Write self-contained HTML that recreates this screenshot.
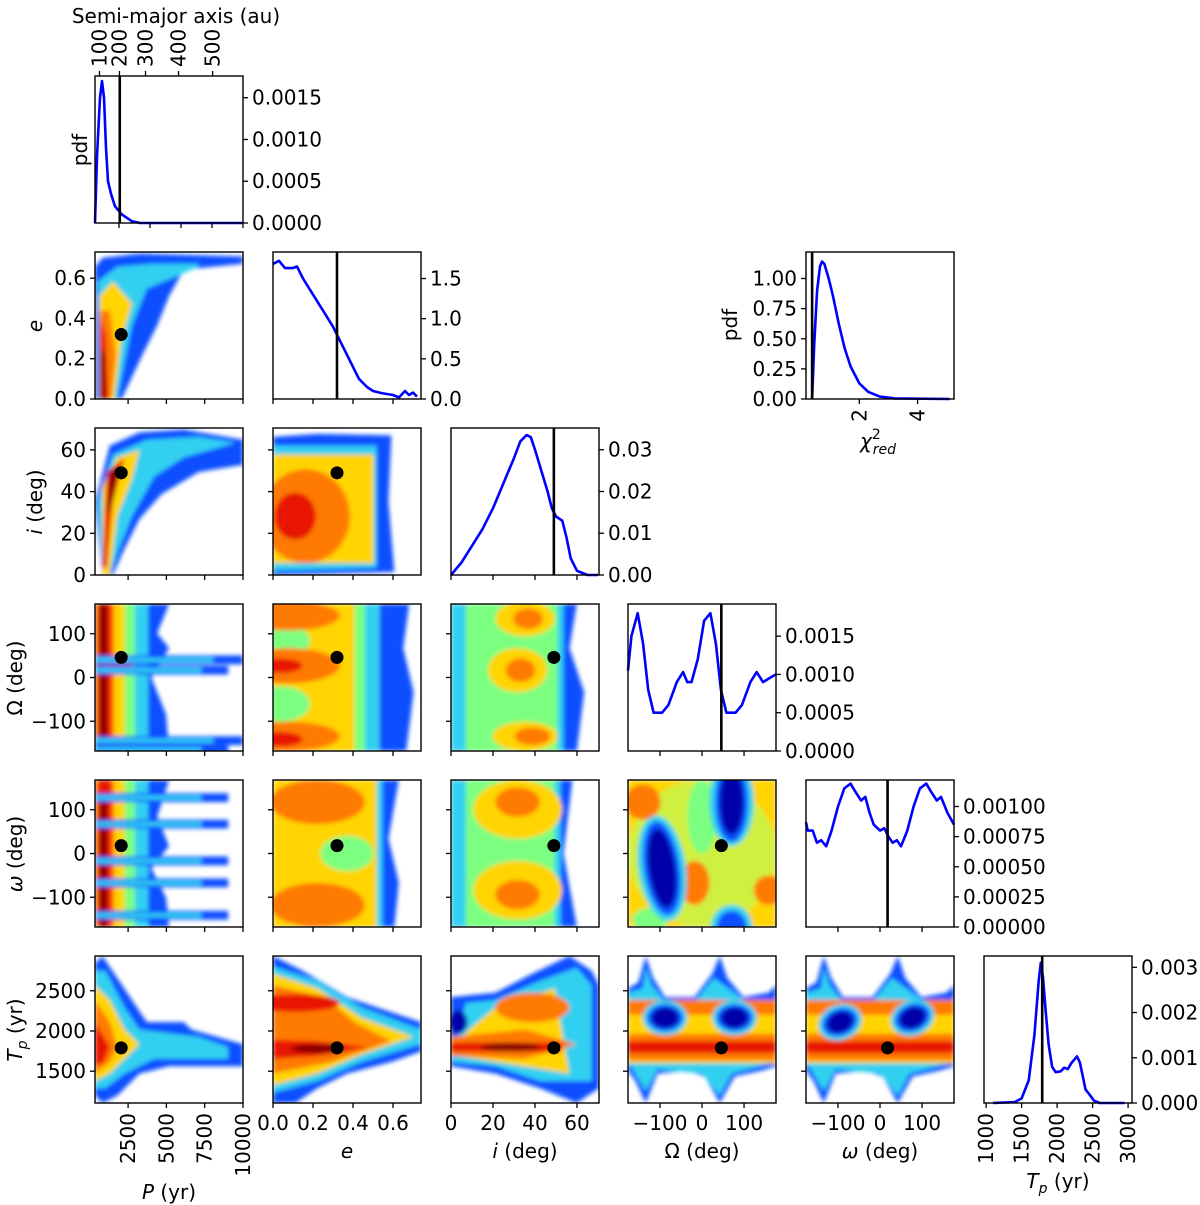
<!DOCTYPE html>
<html><head><meta charset="utf-8"><style>
html,body{margin:0;padding:0;background:#fff;}
svg{display:block;font-family:"DejaVu Sans","Liberation Sans",sans-serif;}
</style></head><body>
<svg id="fig" width="1200" height="1205" viewBox="0 0 1200 1205" xmlns="http://www.w3.org/2000/svg">
<defs><filter id="bl" x="-10%" y="-10%" width="120%" height="120%"><feGaussianBlur stdDeviation="2.2"/></filter></defs>
</svg>
<script>
// ---------- data ----------
const bestFit = {P:2050, e:0.32, i:49, Om:46, om:18, Tp:1790};
const pdfP_x = [452,581,775,904,1033,1162,1291,1484,1742,2194,2839,3355,10000];
const pdfP_y = [0,0.0008,0.0015,0.0017,0.0015,0.0009,0.0005,0.00035,0.0002,0.0001,0.00002,0,0];
const pdfE_x = [0,0.03,0.06,0.1,0.12,0.15,0.2,0.25,0.3,0.33,0.36,0.4,0.43,0.47,0.5,0.55,0.6,0.63,0.66,0.68,0.7,0.72];
const pdfE_y = [1.68,1.72,1.63,1.63,1.65,1.5,1.3,1.1,0.9,0.75,0.6,0.4,0.25,0.15,0.1,0.07,0.05,0.02,0.1,0.05,0.08,0.03];
const pdfI_x = [0,5,10,15,20,25,30,33,36,38,40,43,46,48,50,53,55,57,60,65,70];
const pdfI_y = [0,0.003,0.007,0.011,0.016,0.022,0.028,0.032,0.0335,0.033,0.030,0.025,0.02,0.016,0.014,0.013,0.009,0.004,0.001,0,0];
const pdfOm_x = [-176,-168,-153,-140,-128,-115,-95,-80,-60,-45,-35,-25,-10,5,20,33,45,58,80,95,115,130,145,160,176];
const pdfOm_y = [0.00105,0.0015,0.0018,0.0014,0.0008,0.0005,0.0005,0.0006,0.0009,0.00103,0.0009,0.0009,0.0012,0.0017,0.0018,0.0014,0.0008,0.0005,0.0005,0.0006,0.0009,0.00103,0.0009,0.00095,0.001];
const pdfom_x = [-176,-172,-160,-150,-140,-128,-115,-100,-85,-70,-60,-45,-35,-25,-15,0,10,20,30,40,50,65,80,95,110,120,135,145,160,176];
const pdfom_y = [0.00087,0.0008,0.0008,0.0007,0.00072,0.00067,0.0008,0.001,0.00115,0.00119,0.00113,0.00105,0.00108,0.00095,0.00085,0.0008,0.00082,0.00075,0.0007,0.00072,0.00067,0.0008,0.001,0.00115,0.00119,0.00113,0.00105,0.00108,0.00095,0.00085];
const pdfTp_x = [1100,1400,1500,1600,1680,1740,1770,1800,1840,1880,1930,1980,2050,2100,2150,2200,2280,2320,2360,2400,2450,2520,2600,2950];
const pdfTp_y = [0,0.00002,0.0001,0.0005,0.0015,0.0027,0.0031,0.0028,0.002,0.0013,0.0008,0.00068,0.0007,0.00078,0.00075,0.00088,0.00103,0.0009,0.0006,0.0003,0.0002,0.00005,0,0];
const chi_x = [0.38,0.45,0.55,0.65,0.72,0.8,0.95,1.1,1.3,1.5,1.7,2,2.3,2.7,3.2,5.1];
const chi_y = [0,0.45,0.9,1.1,1.14,1.12,1.0,0.85,0.62,0.42,0.27,0.13,0.06,0.02,0.005,0];
const chiBest = 0.38;
const auTicks = [100,200,300,400,500];
const auTickP = [740,2030,3710,5840,8040];

// ---------- layout ----------
const NS="http://www.w3.org/2000/svg";
const svg=document.getElementById('fig');
const colX=[95,273,451,628,806,984], rowY=[76,252,428,604,780,956], W=148, H=147;
const xDom=[[340,10000],[0,0.74],[0,70.5],[-176,176],[-176,176],[970,3055]];
const yDom=[null,[0,0.73],[0,70.5],[-168,168],[-168,168],[1105,2932]];
const dDom=[[0,0.00176],[0,1.83],[0,0.0352],[0,0.00192],[0,0.00122],[0,0.00325]];
function sx(c,v,dom){const d=dom||xDom[c];return colX[c]+(v-d[0])/(d[1]-d[0])*W;}
function sy(r,v,dom){const d=dom||yDom[r];return rowY[r]+H-(v-d[0])/(d[1]-d[0])*H;}
function el(tag,attrs,parent){const e=document.createElementNS(NS,tag);for(const k in attrs)e.setAttribute(k,attrs[k]);(parent||svg).appendChild(e);return e;}
function txt(s,x,y,attrs,parent){const t=el('text',Object.assign({x:x,y:y,'font-size':20,fill:'#000'},attrs||{}),parent);t.textContent=s;return t;}

const C={DR:'#8b0000',R:'#e81800',O:'#ff7a00',Y:'#ffd400',LY:'#d0f040',G:'#7cff80',C:'#30d0f0',B:'#1050ff',DB:'#0000a8'};

function heat(r,c,name,shapes){
  const x0=colX[c],y0=rowY[r];
  const cp=el('clipPath',{id:'cp'+r+c},svg.querySelector('defs'));
  el('rect',{x:x0,y:y0,width:W,height:H},cp);
  const g=el('g',{'clip-path':'url(#cp'+r+c+')'});
  
  
  const gb=el('g',{filter:'url(#bl)'},g);
  shapes.forEach(s=>{
    if(s[0]==='p'){el('polygon',{points:s[2].map(p=>(x0+p[0]*W)+','+(y0+p[1]*H)).join(' '),fill:C[s[1]]},gb);}
    else if(s[0]==='e'){el('ellipse',{cx:x0+s[2]*W,cy:y0+s[3]*H,rx:s[4]*W,ry:s[5]*H,fill:C[s[1]],transform:'rotate('+(s[6]||0)+' '+(x0+s[2]*W)+' '+(y0+s[3]*H)+')'},gb);}
    else if(s[0]==='r'){el('rect',{x:x0+s[2]*W,y:y0+s[3]*H,width:s[4]*W,height:s[5]*H,fill:C[s[1]]},gb);}
  });
  return g;
}
function streaks(vs,len){const o=[];vs.forEach(v=>{o.push(['r','B',0,v-0.03,len,0.06]);o.push(['r','C',0,v-0.015,len*0.8,0.03]);});return o;}

heat(1,0,'heatmap-p-e',[
 ['p','B',[[0,1],[0,0.1],[0.05,0.04],[0.3,0.01],[1,0.03],[1,0.08],[0.6,0.12],[0.5,0.3],[0.42,0.5],[0.32,0.7],[0.25,0.85],[0.18,1]]],
 ['p','C',[[0.02,1],[0.02,0.2],[0.15,0.1],[0.4,0.08],[0.7,0.08],[0.7,0.1],[0.35,0.25],[0.25,0.5],[0.2,0.75],[0.15,1]]],
 ['p','Y',[[0.03,1],[0.03,0.3],[0.12,0.2],[0.25,0.35],[0.18,0.6],[0.13,1]]],
 ['p','O',[[0.03,1],[0.03,0.4],[0.1,0.4],[0.14,0.7],[0.11,1]]],
 ['p','R',[[0.03,1],[0.03,0.45],[0.07,0.55],[0.09,1]]],
 ['p','DR',[[0.04,1],[0.04,0.65],[0.07,0.7],[0.07,1]]]]);
heat(2,0,'heatmap-p-i',[
 ['p','B',[[0.05,1],[0,0.5],[0.1,0.12],[0.3,0.03],[0.6,0.01],[1,0.08],[1,0.25],[0.7,0.3],[0.45,0.45],[0.3,0.62],[0.2,0.82],[0.12,1]]],
 ['p','C',[[0.05,1],[0.02,0.5],[0.12,0.18],[0.35,0.08],[0.7,0.06],[0.95,0.1],[0.6,0.2],[0.4,0.33],[0.25,0.6],[0.15,0.85],[0.1,1]]],
 ['p','Y',[[0.05,1],[0.05,0.4],[0.15,0.2],[0.3,0.15],[0.25,0.35],[0.15,0.6],[0.1,1]]],
 ['p','R',[[0.05,0.95],[0.08,0.3],[0.2,0.2],[0.12,0.5],[0.08,0.95]]],
 ['p','DR',[[0.08,0.6],[0.1,0.3],[0.17,0.25],[0.12,0.5]]]]);
heat(2,1,'heatmap-e-i',[
 ['p','B',[[0,0.06],[0.3,0.04],[0.8,0.05],[0.78,0.5],[0.82,0.98],[0,1]]],
 ['p','C',[[0,0.12],[0.7,0.12],[0.7,0.95],[0,0.97]]],
 ['r','Y',0,0.18,0.68,0.74],
 ['e','O',0.22,0.6,0.3,0.32],
 ['e','R',0.15,0.6,0.14,0.16]]);
heat(3,0,'heatmap-p-omega',[
 ['p','B',[[0,0],[0.5,0],[0.42,0.2],[0.5,0.3],[0.38,0.5],[0.48,0.75],[0.5,1],[0,1]]],
 ['r','C',0,0,0.36,1],['r','G',0,0,0.27,1],['r','Y',0,0,0.2,1],['r','O',0,0,0.13,1],['r','R',0.02,0,0.09,1],['r','DR',0.03,0,0.05,1],
 ['e','R',0.15,0.4,0.12,0.03],['e','R',0.15,0.93,0.12,0.03]
].concat(streaks([0.38,0.93],1)).concat(streaks([0.45,0.99],0.9)));
heat(3,1,'heatmap-e-omega',[
 ['p','B',[[0,0],[0.92,0],[0.88,0.3],[0.95,0.6],[0.9,1],[0,1]]],
 ['r','C',0,0,0.72,1],['r','G',0,0,0.62,1],['r','Y',0,0,0.55,1],
 ['e','G',0.05,0.25,0.2,0.12],['e','G',0.05,0.68,0.2,0.12],
 ['e','O',0.1,0.08,0.35,0.1],['e','O',0.1,0.42,0.35,0.12],['e','O',0.1,0.9,0.35,0.1],
 ['e','R',0.05,0.42,0.15,0.05],['e','R',0.05,0.92,0.15,0.05]]);
heat(3,2,'heatmap-i-omega',[
 ['p','B',[[0,0],[0.85,0],[0.8,0.3],[0.9,0.6],[0.85,1],[0,1]]],
 ['r','C',0,0,0.76,1],['r','G',0.1,0,0.62,1],
 ['e','Y',0.5,0.1,0.2,0.12],['e','Y',0.45,0.45,0.2,0.15],['e','Y',0.5,0.9,0.22,0.1],
 ['e','O',0.52,0.1,0.1,0.07],['e','O',0.47,0.45,0.1,0.08],['e','O',0.55,0.9,0.12,0.06]]);
heat(4,0,'heatmap-p-argperi',[
 ['p','B',[[0,0],[0.5,0],[0.42,0.25],[0.5,0.45],[0.38,0.6],[0.48,0.8],[0.5,1],[0,1]]],
 ['r','C',0,0,0.36,1],['r','G',0,0,0.27,1],['r','Y',0,0,0.2,1],['r','O',0,0,0.13,1],['r','R',0.02,0,0.09,1],['r','DR',0.03,0.1,0.05,0.9]
].concat(streaks([0.12,0.3,0.55,0.7,0.92],0.9)));
heat(4,1,'heatmap-e-argperi',[
 ['p','B',[[0,0],[0.85,0],[0.78,0.4],[0.85,0.7],[0.82,1],[0,1]]],
 ['r','C',0,0,0.74,1],['r','Y',0,0,0.7,1],
 ['e','O',0.3,0.15,0.32,0.15],['e','O',0.3,0.85,0.32,0.15],
 ['e','G',0.5,0.5,0.18,0.12]]);
heat(4,2,'heatmap-i-argperi',[
 ['p','B',[[0,0],[0.82,0],[0.76,0.5],[0.85,1],[0,1]]],
 ['r','C',0,0,0.74,1],['r','G',0.1,0,0.6,1],
 ['e','Y',0.45,0.2,0.3,0.2],['e','Y',0.45,0.75,0.3,0.2],
 ['e','O',0.45,0.15,0.15,0.1],['e','O',0.45,0.78,0.15,0.1]]);
heat(4,3,'heatmap-omega-argperi',[
 ['r','Y',0,0,1,1],['e','LY',0.5,0.5,0.5,0.5],
 ['e','O',0.1,0.15,0.12,0.12],['e','O',0.45,0.7,0.1,0.15],['e','O',0.95,0.75,0.1,0.1],
 ['e','G',0.5,0.25,0.1,0.25],['e','G',0.15,0.95,0.12,0.08],
 ['e','C',0.23,0.6,0.16,0.36,-8],['e','B',0.23,0.6,0.12,0.32,-8],['e','DB',0.23,0.6,0.09,0.27,-8],
 ['e','C',0.7,0.15,0.15,0.3],['e','B',0.7,0.15,0.11,0.27],['e','DB',0.7,0.15,0.08,0.22],
 ['e','C',0.7,1,0.14,0.15],['e','B',0.7,1,0.1,0.11]]);
function tpShape(r,c,name,holes,rot){
  const s=[
   ['p','B',[[0,0.22],[0.07,0.18],[0.12,0],[0.17,0.15],[0.25,0.28],[0.45,0.28],[0.57,0.12],[0.62,0],[0.67,0.15],[0.78,0.28],[0.95,0.25],[1,0.2],[1,0.75],[0.9,0.78],[0.72,0.82],[0.62,1],[0.52,0.82],[0.4,0.78],[0.2,0.8],[0.12,1],[0.05,0.85],[0,0.78]]],
   ['p','C',[[0,0.25],[0.1,0.22],[0.12,0.08],[0.16,0.2],[0.25,0.31],[0.45,0.31],[0.58,0.15],[0.65,0.2],[0.8,0.31],[1,0.3],[1,0.72],[0.7,0.8],[0.62,0.95],[0.5,0.8],[0.2,0.77],[0.12,0.92],[0,0.72]]],
   ['r','Y',0,0.3,1,0.43],
   ['r','O',0,0.3,1,0.1],['r','O',0,0.53,1,0.18],
   ['r','R',0,0.58,1,0.08]];
  holes.forEach(h=>{s.push(['e','C',h[0],h[1],0.15,0.12,rot]);s.push(['e','B',h[0],h[1],0.12,0.09,rot]);s.push(['e','DB',h[0],h[1],0.09,0.07,rot]);});
  heat(r,c,name,s);
}
heat(5,0,'heatmap-p-tp',[
 ['p','B',[[0,0.05],[0.05,0.0],[0.15,0.15],[0.35,0.45],[0.6,0.45],[0.65,0.5],[1,0.6],[1,0.75],[0.5,0.75],[0.3,0.8],[0.15,0.95],[0.05,1],[0,0.95]]],
 ['p','C',[[0,0.1],[0.07,0.1],[0.2,0.35],[0.3,0.5],[0.7,0.55],[0.9,0.62],[0.9,0.7],[0.4,0.7],[0.2,0.8],[0.07,0.9],[0,0.9]]],
 ['p','Y',[[0,0.2],[0.1,0.3],[0.2,0.5],[0.3,0.6],[0.2,0.7],[0.1,0.8],[0,0.85]]],
 ['p','O',[[0,0.3],[0.1,0.45],[0.15,0.62],[0.1,0.72],[0,0.8]]],
 ['p','R',[[0,0.45],[0.06,0.55],[0.1,0.62],[0.06,0.72],[0,0.75]]]]);
heat(5,1,'heatmap-e-tp',[
 ['p','B',[[0,0],[0.2,0.1],[0.5,0.28],[0.85,0.4],[1,0.45],[1,0.65],[0.8,0.72],[0.5,0.8],[0.3,0.9],[0.15,1],[0,1]]],
 ['p','C',[[0,0.07],[0.3,0.17],[0.6,0.35],[1,0.5],[1,0.6],[0.6,0.72],[0.3,0.85],[0,0.93]]],
 ['p','Y',[[0,0.12],[0.3,0.22],[0.6,0.42],[0.95,0.55],[0.6,0.67],[0.3,0.8],[0,0.88]]],
 ['p','O',[[0,0.2],[0.35,0.28],[0.55,0.45],[0.8,0.58],[0.4,0.72],[0,0.8]]],
 ['e','R',0.15,0.32,0.3,0.06],
 ['p','R',[[0,0.57],[0.3,0.58],[0.65,0.62],[0.3,0.68],[0,0.7]]],['e','DR',0.3,0.63,0.18,0.03]]);
heat(5,2,'heatmap-i-tp',[
 ['p','B',[[0,0.28],[0.3,0.25],[0.55,0.12],[0.8,0.0],[0.95,0.1],[1,0.2],[1,0.9],[0.85,1],[0.6,0.9],[0.3,0.8],[0,0.75]]],
 ['p','C',[[0.1,0.32],[0.3,0.3],[0.6,0.17],[0.85,0.08],[0.95,0.2],[0.95,0.85],[0.6,0.85],[0.3,0.75],[0,0.72]]],
 ['e','DB',0.05,0.45,0.06,0.08],
 ['p','Y',[[0.1,0.52],[0.3,0.35],[0.7,0.22],[0.8,0.8],[0.3,0.72],[0.05,0.68]]],
 ['e','O',0.55,0.35,0.25,0.1],['p','O',[[0,0.55],[0.5,0.5],[0.85,0.6],[0.5,0.7],[0,0.68]]],['r','R',0,0.59,0.75,0.06],['e','DR',0.4,0.62,0.2,0.03]]);
tpShape(5,3,'heatmap-omega-tp',[[0.25,0.42],[0.72,0.42]],0);
tpShape(5,4,'heatmap-argperi-tp',[[0.23,0.45],[0.72,0.42]],-22);

// ---- 1D pdfs ----
function curve(r,c,xs,ys,name,xdom,ydom){
  const pts=xs.map((x,k)=>sx(c,x,xdom).toFixed(1)+','+sy(r,ys[k],ydom).toFixed(1)).join(' ');
  const p=el('polyline',{points:pts,fill:'none',stroke:'#0000ff','stroke-width':2.6,'stroke-linejoin':'round'});
  
  
}
function vline(r,c,v,name,xdom){
  const x=sx(c,v,xdom);
  const l=el('line',{x1:x,x2:x,y1:rowY[r],y2:rowY[r]+H,stroke:'#000','stroke-width':2.6});
  
  
}
const row0X=[452,10000];
curve(0,0,pdfP_x,pdfP_y,'pdf-period-curve',row0X,dDom[0]);
vline(0,0,bestFit.P,'best-period-line',row0X);
curve(1,1,pdfE_x,pdfE_y,'pdf-e-curve',null,dDom[1]); vline(1,1,bestFit.e,'best-e-line');
curve(2,2,pdfI_x,pdfI_y,'pdf-i-curve',null,dDom[2]); vline(2,2,bestFit.i,'best-i-line');
curve(3,3,pdfOm_x,pdfOm_y,'pdf-node-curve',null,dDom[3]); vline(3,3,bestFit.Om,'best-node-line');
curve(4,4,pdfom_x,pdfom_y,'pdf-argperi-curve',null,dDom[4]); vline(4,4,bestFit.om,'best-argperi-line');
curve(5,5,pdfTp_x,pdfTp_y,'pdf-tp-curve',null,dDom[5]); vline(5,5,bestFit.Tp,'best-tp-line');
const chiDomX=[0.17,5.25], chiDomY=[0,1.22];
curve(1,4,chi_x,chi_y,'pdf-chi2-curve',chiDomX,chiDomY);
vline(1,4,chiBest,'best-chi2-line',chiDomX);

// ---- best-fit dots ----
const varOfCol=['P','e','i','Om','om','Tp'];
for(let r=1;r<6;r++)for(let c=0;c<r;c++){
  const d=el('circle',{cx:sx(c,bestFit[varOfCol[c]]),cy:sy(r,bestFit[varOfCol[r]]),r:6.5,fill:'#000'});
  
  
}

// ---- frames & ticks ----
function frame(r,c,name){const f=el('rect',{x:colX[c],y:rowY[r],width:W,height:H,fill:'none',stroke:'#000','stroke-width':1.4});
 }
const xTicks=[[2500,5000,7500,10000],[0,0.2,0.4,0.6],[0,20,40,60],[-100,0,100],[-100,0,100],[1000,1500,2000,2500,3000]];
const xTickLbl=[['2500','5000','7500','10000'],['0.0','0.2','0.4','0.6'],['0','20','40','60'],['\u2212100','0','100'],['\u2212100','0','100'],['1000','1500','2000','2500','3000']];
const yTicks=[null,[0,0.2,0.4,0.6],[0,20,40,60],[-100,0,100],[-100,0,100],[1500,2000,2500]];
const yTickLbl=[null,['0.0','0.2','0.4','0.6'],['0','20','40','60'],['\u2212100','0','100'],['\u2212100','0','100'],['1500','2000','2500']];
const dTicks=[[0,0.0005,0.001,0.0015],[0,0.5,1,1.5],[0,0.01,0.02,0.03],[0,0.0005,0.001,0.0015],[0,0.00025,0.0005,0.00075,0.001],[0,0.001,0.002,0.003]];
const dTickLbl=[['0.0000','0.0005','0.0010','0.0015'],['0.0','0.5','1.0','1.5'],['0.00','0.01','0.02','0.03'],['0.0000','0.0005','0.0010','0.0015'],['0.00000','0.00025','0.00050','0.00075','0.00100'],['0.000','0.001','0.002','0.003']];
const row0Ticks=[2000,4000,6000,8000,10000];
function tk(x1,y1,x2,y2){el('line',{x1:x1,y1:y1,x2:x2,y2:y2,stroke:'#000','stroke-width':1.3});}
function rotLbl(s,x,y){txt(s,x+7,y,{'text-anchor':'end',transform:'rotate(-90 '+(x+7)+' '+y+')'});}
for(let r=0;r<6;r++)for(let c=0;c<=r;c++){
  frame(r,c,r===c?'pdf-panel-'+r:'heatmap-frame-'+r+'-'+c);
  const yb=rowY[r]+H;
  if(r===0){row0Ticks.forEach(v=>tk(sx(0,v,row0X),yb,sx(0,v,row0X),yb+5));}
  else xTicks[c].forEach((v,k)=>{const x=sx(c,v);tk(x,yb,x,yb+5);
    if(r===5){ if(c===5||c===0) rotLbl(xTickLbl[c][k],x,yb+10);
      else txt(xTickLbl[c][k],x,yb+27,{'text-anchor':'middle'});}});
  if(r===c){const xr=colX[c]+W;dTicks[r].forEach((v,k)=>{const y=sy(r,v,dDom[r]);tk(xr,y,xr+5,y);txt(dTickLbl[r][k],xr+9,y+7);});}
  else yTicks[r].forEach((v,k)=>{const y=sy(r,v);tk(colX[c]-5,y,colX[c],y);if(c===0)txt(yTickLbl[r][k],colX[c]-9,y+7,{'text-anchor':'end'});});
}
frame(1,4,'chi2-panel');
[0,0.25,0.5,0.75,1].forEach((v,k)=>{const y=sy(1,v,chiDomY);tk(806-5,y,806,y);txt(['0.00','0.25','0.50','0.75','1.00'][k],797,y+7,{'text-anchor':'end'});});
[2,4].forEach(v=>{const x=sx(4,v,chiDomX);tk(x,399,x,404);rotLbl(String(v),x,409);});
auTicks.forEach((v,k)=>{const x=sx(0,auTickP[k],row0X);tk(x,71,x,76);txt(String(v),x+7,67,{transform:'rotate(-90 '+(x+7)+' 67)'});});

// ---- axis labels ----
function lbl(s,x,y,name,rot){const t=txt('',x,y,{'text-anchor':'middle'});t.innerHTML=s;
 if(rot)t.setAttribute('transform','rotate(-90 '+x+' '+y+')');}
const sub='<tspan font-style="italic">T</tspan><tspan font-style="italic" font-size="14" dy="5">p</tspan><tspan dy="-5"> (yr)</tspan>';
lbl('Semi-major axis (au)',176,23,'top-axis-title');
lbl('pdf',87,150,'pdf-y-label',true);
lbl('pdf',737,325,'chi2-pdf-y-label',true);
lbl('<tspan font-style="italic">e</tspan>',42,326,'e-y-label',true);
lbl('<tspan font-style="italic">i</tspan> (deg)',42,502,'i-y-label',true);
lbl('\u03a9 (deg)',22,678,'node-y-label',true);
lbl('<tspan font-style="italic">\u03c9</tspan> (deg)',22,854,'argperi-y-label',true);
lbl(sub,22,1030,'tp-y-label',true);
lbl('<tspan font-style="italic">P</tspan> (yr)',169,1199,'p-x-label');
lbl('<tspan font-style="italic">e</tspan>',347,1158,'e-x-label');
lbl('<tspan font-style="italic">i</tspan> (deg)',525,1158,'i-x-label');
lbl('\u03a9 (deg)',702,1158,'node-x-label');
lbl('<tspan font-style="italic">\u03c9</tspan> (deg)',880,1158,'argperi-x-label');
lbl(sub,1058,1188,'tp-x-label');
lbl('<tspan font-style="italic">\u03c7</tspan><tspan font-size="14" dy="-9">2</tspan><tspan font-style="italic" font-size="14" dx="-8" dy="15">red</tspan>',878,448,'chi2-x-label');
</script>
</body></html>
